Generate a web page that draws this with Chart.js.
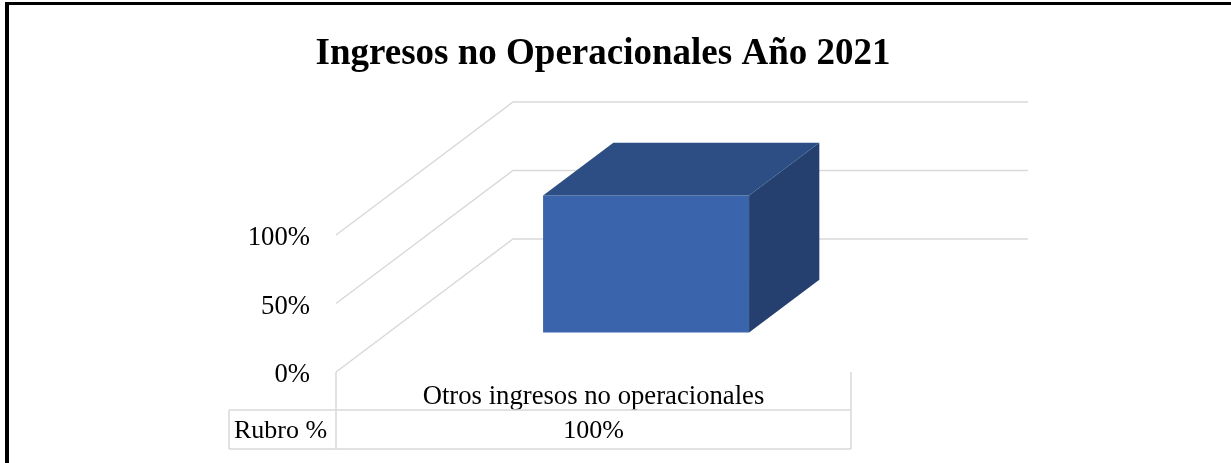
<!DOCTYPE html>
<html>
<head>
<meta charset="utf-8">
<script src="https://cdn.jsdelivr.net/npm/chart.js@4"></script>
<style>
  body { margin: 0; background: #fff; }
  #wrap { position: relative; width: 1231px; height: 463px; overflow: hidden; }
  #frame { position: absolute; left: 5px; top: 2px; width: 1300px; height: 500px; border-left: 4px solid #000; border-top: 3px solid #000; }
  canvas { position: absolute; left: 0; top: 0; }
</style>
</head>
<body>
<div id="wrap">
  <canvas id="chart" width="1231" height="463"></canvas>
  <div id="frame"></div>
</div>
<script>
const chartTitle = 'Ingresos no Operacionales Año 2021';
const categories = ['Otros ingresos no operacionales'];
const seriesName = 'Rubro %';
const seriesValues = [100];
const yTicks = [0, 50, 100];

// Fake 3D: how far the back wall sits from the front plane
const depthX = 177, depthY = 133;
const barOffset = 0.297, barDepth = 0.397;   // bar position inside the depth
const gridColor = '#D9D9D9';
const serif = '"Liberation Serif", "Times New Roman", serif';
const labelSize = 26.7;

const box3d = {
  id: 'box3d',
  beforeDatasetsDraw(chart) {
    const { ctx, chartArea: area, scales: { y } } = chart;
    ctx.save();
    ctx.strokeStyle = gridColor;
    ctx.lineWidth = 1.5;

    // side wall + back wall lines
    yTicks.forEach(v => {
      const py = y.getPixelForValue(v);
      ctx.beginPath();
      ctx.moveTo(area.left, py);
      ctx.lineTo(area.left + depthX, py - depthY);
      ctx.lineTo(area.right + depthX, py - depthY);
      ctx.stroke();
    });

    // data table under the plot
    const rowTop = 410, rowBottom = 449, tableLeft = 229;
    ctx.beginPath();
    ctx.moveTo(area.left, area.bottom); ctx.lineTo(area.left, rowBottom);
    ctx.moveTo(area.right, area.bottom); ctx.lineTo(area.right, rowBottom);
    ctx.moveTo(tableLeft, rowTop); ctx.lineTo(tableLeft, rowBottom);
    ctx.moveTo(tableLeft, rowTop); ctx.lineTo(area.right, rowTop);
    ctx.moveTo(tableLeft, rowBottom); ctx.lineTo(area.right, rowBottom);
    ctx.stroke();

    ctx.fillStyle = '#000';
    ctx.textBaseline = 'middle';
    ctx.textAlign = 'center';
    ctx.font = '26px ' + serif;
    ctx.fillText(seriesName, (tableLeft + area.left) / 2 - 2, 431);
    ctx.fillText(seriesValues[0] + '%', (area.left + area.right) / 2, 431);
    ctx.restore();

    // bar sits partway back, so shift it before the library draws it
    ctx.save();
    ctx.translate(depthX * barOffset, -depthY * barOffset);
  },
  afterDatasetsDraw(chart) {
    const { ctx } = chart;
    const dx = depthX * barDepth, dy = depthY * barDepth;
    chart.getDatasetMeta(0).data.forEach(bar => {
      const l = bar.x - bar.width / 2, r = bar.x + bar.width / 2;
      // top face
      ctx.fillStyle = '#2D4E84';
      ctx.beginPath();
      ctx.moveTo(l, bar.y);
      ctx.lineTo(l + dx, bar.y - dy);
      ctx.lineTo(r + dx, bar.y - dy);
      ctx.lineTo(r, bar.y);
      ctx.closePath();
      ctx.fill();
      // side face
      ctx.fillStyle = '#253F6E';
      ctx.beginPath();
      ctx.moveTo(r, bar.y);
      ctx.lineTo(r + dx, bar.y - dy);
      ctx.lineTo(r + dx, bar.base - dy);
      ctx.lineTo(r, bar.base);
      ctx.closePath();
      ctx.fill();
    });
    ctx.restore();
  }
};

new Chart(document.getElementById('chart'), {
  type: 'bar',
  data: {
    labels: categories,
    datasets: [{
      label: seriesName,
      data: seriesValues,
      backgroundColor: '#3A64AC',
      barPercentage: 0.4,
      categoryPercentage: 1,
      clip: false
    }]
  },
  options: {
    responsive: false,
    animation: false,
    layout: { padding: { left: 0, right: 25, top: 0, bottom: 0 } },
    plugins: {
      legend: { display: false },
      tooltip: { enabled: false },
      title: {
        display: true,
        text: chartTitle,
        color: '#000',
        font: { family: serif, size: 37, weight: 'bold' },
        padding: { top: 32, bottom: 158.6 }
      }
    },
    scales: {
      x: {
        grid: { display: false, drawTicks: false },
        border: { display: false },
        ticks: { color: '#000', padding: 9, font: { family: serif, size: labelSize } },
        afterFit(scale) { scale.height = 91; }
      },
      y: {
        min: 0,
        max: 100,
        afterBuildTicks(scale) { scale.ticks = yTicks.map(value => ({ value })); },
        grid: { display: false, drawTicks: false },
        border: { display: false },
        ticks: {
          color: '#000',
          padding: 26,
          labelOffset: 3,
          font: { family: serif, size: labelSize },
          callback: v => v + '%'
        },
        afterFit(scale) { scale.width = 336; }
      },
      // empty axis, only there to keep the plot off the right side
      spacer: {
        position: 'right',
        grid: { display: false, drawTicks: false },
        border: { display: false },
        ticks: { display: false },
        afterFit(scale) { scale.width = 355; }
      }
    }
  },
  plugins: [box3d]
});
</script>
</body>
</html>
